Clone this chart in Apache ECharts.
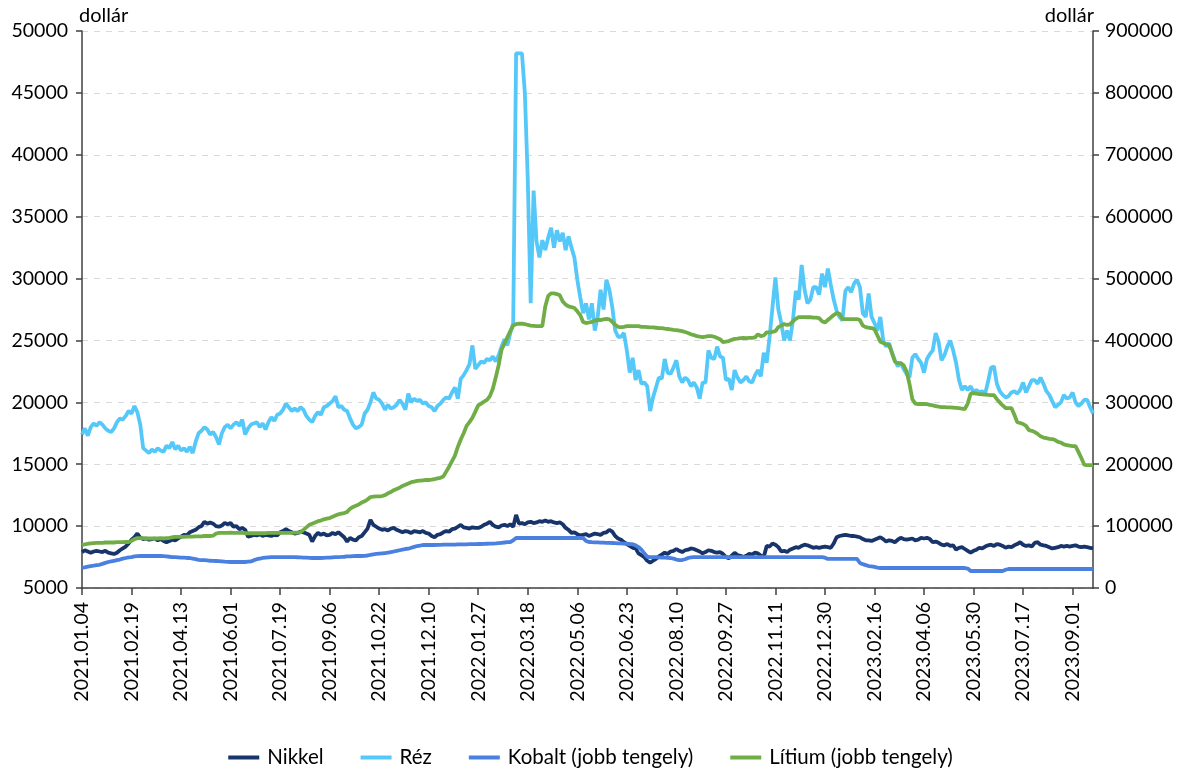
<!DOCTYPE html>
<html>
<head>
<meta charset="utf-8">
<script src="https://cdn.jsdelivr.net/npm/echarts@6/dist/echarts.min.js"></script>
<style>
html,body{margin:0;padding:0;background:#fff;}
#chart{width:1181px;height:771px;}
</style>
</head>
<body>
<div id="chart"></div>
<script>
// Tick labels (every 17th point; points are every other business day)
const tickLabels = ['2021.01.04','2021.02.19','2021.04.13','2021.06.01','2021.07.19','2021.09.06','2021.10.22','2021.12.10',
  '2022.01.27','2022.03.18','2022.05.06','2022.06.23','2022.08.10','2022.09.27','2022.11.11','2022.12.30',
  '2023.02.16','2023.04.06','2023.05.30','2023.07.17','2023.09.01'];
const labelStep = 17;

const nikkel = [
7900,8050,7950,7850,7950, 8000,7950,7900,8000,7850, 7800,7750,7850,8050,8200, 8350,8600,8900,9100,9400,
9050,8950,9000,8900,8950, 9000,8850,8950,8800,8700, 8800,8900,8850,9000,9150, 9300,9250,9500,9600,9700,
9900,10000,10350,10200,10300, 10200,10000,9950,10050,10250, 10150,10250,9950,10000,9750, 9850,9700,9150,9200,9300,
9250,9350,9200,9300,9250, 9200,9300,9250,9500,9600, 9750,9600,9500,9400,9450, 9550,9500,9400,9300,8750,
9200,9450,9300,9400,9250, 9300,9450,9350,9500,9300, 9100,8750,9050,8900,8850, 9100,9200,9500,9800,10500,
10100,9950,9800,9700,9750, 9650,9800,9850,9700,9600, 9500,9600,9550,9450,9600, 9550,9500,9600,9450,9400,
9200,9100,9300,9350,9500, 9600,9550,9750,9800,9950, 10100,9900,9850,9800,9900, 9850,9850,9950,10100,10200,
10350,10100,9950,9900,10050, 10100,10000,10150,9950,10900, 10200,10250,10150,10300,10350, 10250,10300,10400,10350,10450,
10350,10400,10300,10250,10300, 10150,9850,9700,9450,9500, 9350,9250,9300,9350,9200, 9300,9400,9350,9300,9450,
9500,9700,9550,9200,9000, 8900,8700,8550,8400,8250, 8200,7800,7650,7500,7200, 7050,7200,7350,7550,7700,
7850,7750,7950,8000,8150, 8000,7900,8050,8100,8200, 8150,8050,7950,7800,7900, 8050,8000,7900,7850,7900,
7750,7500,7400,7600,7850, 7650,7600,7500,7600,7750, 7700,7850,7800,7600,7500, 8400,8350,8600,8500,8300,
7950,8000,7900,8100,8200, 8300,8250,8400,8500,8450, 8350,8250,8300,8250,8300, 8350,8300,8250,8600,9100,
9200,9250,9300,9250,9200, 9200,9150,9100,8950,8850, 8850,8800,8900,9000,9100, 8950,8750,8850,8800,8700,
8900,9050,8950,8900,8950, 9000,8850,8900,9050,9000, 9050,8950,8700,8750,8650, 8500,8450,8550,8400,8450,
8100,8250,8300,8150,8000, 7850,8000,8100,8250,8200, 8350,8450,8500,8400,8550, 8500,8400,8250,8350,8300,
8450,8550,8700,8500,8400, 8450,8350,8650,8700,8500, 8450,8400,8300,8200,8250, 8300,8400,8350,8400,8350,
8400,8450,8350,8300,8350, 8300,8250,8200];

const rez = [
17400,17900,17300,18000,18300, 18100,18400,18200,17900,17700, 17600,17900,18400,18700,18600, 18900,19300,19100,19700,19200,
18200,16300,16100,15900,16200, 16000,16300,16100,16000,16500, 16300,16800,16200,16500,16100, 16300,16000,16400,15900,16800,
17500,17700,18000,17800,17400, 17600,17200,16600,17500,18000, 18200,17900,18200,18400,18100, 18600,17400,17900,18200,18300,
18400,18000,18300,17800,18400, 18800,18500,19000,19100,19400, 19900,19600,19300,19500,19300, 19600,19400,18900,18600,18400,
18900,19200,19000,19600,19700, 19900,20100,20500,19600,19700, 19400,19300,18700,18200,17900, 18000,18200,19100,19400,20000,
20800,20300,20200,19900,19400, 19800,19500,19600,19800,20200, 19900,19400,20700,20000,20300, 20100,20200,19900,20000,19700,
19600,19300,19700,19900,20200, 20400,20300,20800,21200,20300, 21900,22200,22600,23100,24600, 22700,23000,23300,23200,23500,
23400,23700,23300,23800,24500, 25100,24600,25600,26400,48200, 48200,48200,45000,38000,28000, 37100,33000,31700,33100,32300,
33300,34100,32500,33900,33000, 33700,32300,33400,32500,31700, 29900,28500,27200,28000,26700, 28000,25800,26900,29100,27500,
29900,29100,27700,25800,25300, 25300,25600,24200,22400,23600, 21800,22600,21500,21600,21300, 19300,20400,21200,22000,21900,
23500,22400,22300,22800,23400, 22100,21600,22000,21800,21300, 21600,21200,20300,21600,21600, 24200,23600,23500,24500,23700,
23600,21800,21900,21000,22600, 22000,21600,21800,22100,21700, 21600,22200,22600,22100,24000, 23200,25300,27700,30100,27500,
26400,25000,25800,25000,26600, 29000,28300,31100,29100,28000, 28300,29300,29300,28700,30400, 29300,30800,29500,28300,27400,
26900,26600,29000,29300,28900, 29600,29900,29300,27200,26900, 28800,26900,26400,25800,26900, 25000,24500,24800,24000,23400,
22900,23200,22700,22300,22000, 23600,23900,23500,23200,22400, 23500,23900,24200,25600,24900, 23400,23800,24500,25000,24200,
23200,21800,21000,21300,21000, 21300,20800,21000,20800,20900, 20700,21700,22800,22900,21500, 20900,20600,20400,20500,20800,
20900,20700,21000,21600,20800, 21300,21800,21800,21500,22000, 21500,20900,20600,20100,19600, 19800,20000,20600,20300,20400,
20800,20000,19700,19900,20200, 20200,19600,19100];

const kobalt = [
32300,33500,34500,35500,36000, 36800,37500,39000,40500,42000, 43000,44000,45000,46000,47500, 48500,49500,50000,51000,51500,
51700,51700,51700,51700,51700, 51700,51700,51700,51500,51000, 50500,50000,50000,49500,49000, 49000,48500,48500,47500,46500,
45500,45000,45000,44500,44000, 43800,43600,43400,43000,42500, 42200,42000,42000,42000,42000, 42000,42000,42500,43000,45000,
46500,47500,48500,49000,49500, 50000,50000,50000,50000,50000, 50000,50000,50000,50000,49700, 49500,49200,49000,48800,48500,
48500,48500,48500,48700,49000, 49200,49500,49800,50000,50200, 50500,51000,51200,51500,51700, 51700,51700,52000,52500,53500,
54500,55000,55500,56000,56500, 57000,58000,59000,60000,61000, 62000,63000,63500,65000,66500, 67800,68500,69500,69500,69500,
69500,69500,69700,69700,70000, 70000,70000,70200,70200,70400, 70400,70600,70600,70800,70800, 71000,71100,71100,71300,71500,
71600,71800,72000,72500,73000, 73500,74000,74300,77000,80800, 80800,80800,80800,80800,80800, 80800,80800,80800,80800,80800,
80800,80800,80800,80800,80800, 80800,80800,80800,80800,80800, 80800,80800,80500,76000,74300, 74000,73800,73600,73400,73200,
73000,72800,72700,72500,72200, 72000,71800,71500,71100,70800, 69000,66200,62000,56000,50500, 50000,50000,49800,49500,49200,
49000,48800,48500,47500,46000, 45200,45200,46500,48500,49500, 50000,50000,50000,50000,50000, 50000,50000,50000,50000,50000,
50000,50000,50000,50000,50000, 50000,50000,50000,50000,50000, 50000,50000,50000,50000,50000, 50000,50000,50000,50000,50000,
50000,50000,50000,50000,50000, 50000,50000,50000,50000,50000, 50000,50000,50000,50000,50000, 49000,46900,46900,46900,46900,
46900,46900,46900,46900,46900, 46900,46900,40400,38500,37000, 35500,35000,34000,33000,32300, 32300,32300,32300,32300,32300,
32300,32300,32300,32300,32300, 32300,32300,32300,32300,32300, 32300,32300,32300,32300,32300, 32300,32300,32300,32300,32300,
32300,32300,32300,32300,31500, 27500,27500,27500,27500,27500, 27500,27500,27500,27500,27500, 27500,27500,29500,30700,30700,
30700,30700,30700,30700,30700, 30700,30700,30700,30700,30700, 30700,30700,30700,30700,30700, 30700,30700,30700,30700,30700,
30700,30700,30700,30700,30700, 30700,30700,30700];

const litium = [
69500,70500,71500,72000,72500, 73000,73000,73000,73500,73500, 73500,73500,74000,74000,74000, 74300,74300,76000,79000,80500,
80500,80500,80000,80000,80000, 80000,80000,80500,80000,80500, 81000,82000,82500,82500,82500, 82500,83000,83000,83000,83500,
83500,83500,84000,84000,84000, 84500,88000,89000,89000,89000, 89000,89500,89000,89000,89000, 89000,88500,88500,88500,88500,
88500,88500,88500,88500,89000, 89000,89000,89000,89000,89000, 89000,89000,89000,89500,89500, 90000,94000,98000,102000,104000,
106000,108000,109000,111000,112000, 113000,115000,117000,119000,120000, 121000,123000,128000,131000,133000, 135000,138000,140000,143000,147000,
147500,148000,148000,148600,150000, 153000,155000,158000,160000,162000, 165000,167000,169000,171000,172000, 173000,173500,174000,174500,174500,
175000,176000,177000,178000,180000, 188000,196000,205000,214000,228000, 240000,250000,262000,268000,275000, 285000,295000,298000,301000,304000,
310000,322000,340000,360000,385000, 395000,405000,415000,424000,426500, 427000,427000,426500,425000,424000, 423500,423000,423000,423300,455000,
472000,476000,476000,475000,473000, 463000,458000,455000,454000,452400, 447000,441000,430000,428000,429000, 430000,432000,433000,433000,434000,
435000,434000,430000,425000,422000, 421600,422000,423000,423000,423000, 423000,423000,422000,422000,421600, 421000,421000,420500,420000,420000,
419000,418500,418000,417000,416800, 416000,415000,413600,412000,410000, 408700,407000,406000,405500,406000, 407000,407100,406000,404000,402000,
397400,398000,399000,401000,402500, 403000,403900,404000,403900,404000, 404000,405000,410000,407000,408000, 413000,413000,414000,415000,421600,
424000,426500,425000,426000,431000, 435000,437800,437800,437800,437500, 437800,437000,437000,436000,431000, 429000,433000,437000,441000,444000,
443000,435000,434600,434600,434600, 434600,434600,433000,424000,421600, 420500,420000,418000,408000,398000, 396000,394000,392600,380000,366000,
363500,363500,360000,350000,330000, 305000,298000,297300,297300,297300, 297000,296000,295000,294000,293000, 292400,292400,292000,292000,291500,
291000,290500,290000,289200,298000, 314000,315000,314000,313400,313000, 312500,312000,311800,311500,305000, 300000,295000,290800,290800,290800,
280000,268000,266600,265000,262000, 255200,254000,252000,249000,245000, 243000,242000,241000,240700,239000, 236000,235000,232000,231000,230000,
229400,229400,220000,210000,199000, 198700,198700,198700];

const categories = [];
for (let i = 0; i < rez.length; i++) categories.push(String(i));

const FONT = 'Lato, "Open Sans", sans-serif';
const TXT = '#000000';
const AXIS = '#404040';
const plain = v => String(v);

const chart = echarts.init(document.getElementById('chart'), null, {renderer: 'canvas'});
chart.setOption({
  animation: false,
  backgroundColor: '#ffffff',
  textStyle: {fontFamily: FONT},
  grid: {left: 82, right: 88, top: 31, bottom: 183, containLabel: false},
  legend: {
    bottom: -2, left: 'center',
    itemWidth: 31, itemHeight: 4, itemGap: 37,
    icon: 'rect',
    textStyle: {fontFamily: FONT, fontSize: 20.5, color: TXT, padding: [0, 0, 0, 3]},
    data: ['Nikkel', 'Réz', 'Kobalt (jobb tengely)', 'Lítium (jobb tengely)']
  },
  xAxis: {
    type: 'category',
    data: categories,
    boundaryGap: false,
    axisLine: {lineStyle: {color: AXIS, width: 1.5}},
    axisTick: {show: true, interval: labelStep - 1, length: 7, lineStyle: {color: AXIS, width: 1.5}},
    axisLabel: {
      interval: labelStep - 1, rotate: 90, margin: 14,
      fontFamily: FONT, fontSize: 19.5, color: TXT,
      formatter: function (v, idx) { return idx % labelStep === 0 ? (tickLabels[idx / labelStep] || '') : ''; }
    },
    splitLine: {show: false}
  },
  yAxis: [
    {
      type: 'value', min: 5000, max: 50000, interval: 5000, position: 'left',
      name: 'dollár', nameLocation: 'end', nameGap: 5,
      nameTextStyle: {fontFamily: FONT, fontSize: 20, color: TXT, align: 'left', verticalAlign: 'bottom', padding: [0, 0, 0, -3]},
      axisLine: {show: true, lineStyle: {color: AXIS, width: 1.5}},
      axisTick: {show: true, length: 6, lineStyle: {color: AXIS, width: 1.5}},
      axisLabel: {fontFamily: FONT, fontSize: 19.5, color: TXT, margin: 14, formatter: plain},
      splitLine: {show: true, lineStyle: {color: '#d9d9d9', type: [6, 6], width: 1}}
    },
    {
      type: 'value', min: 0, max: 900000, interval: 100000, position: 'right',
      name: 'dollár', nameLocation: 'end', nameGap: 5,
      nameTextStyle: {fontFamily: FONT, fontSize: 20, color: TXT, align: 'right', verticalAlign: 'bottom', padding: [0, -1, 0, 0]},
      axisLine: {show: true, lineStyle: {color: AXIS, width: 1.5}},
      axisTick: {show: true, length: 6, lineStyle: {color: AXIS, width: 1.5}},
      axisLabel: {fontFamily: FONT, fontSize: 19.5, color: TXT, margin: 12, formatter: plain},
      splitLine: {show: false}
    }
  ],
  series: [
    {name: 'Nikkel', type: 'line', yAxisIndex: 0, data: nikkel, showSymbol: false, symbol: 'none',
      color: '#17346b', lineStyle: {width: 3.8, color: '#17346b'}},
    {name: 'Réz', type: 'line', yAxisIndex: 0, data: rez, showSymbol: false, symbol: 'none',
      color: '#55c8fa', lineStyle: {width: 3.8, color: '#55c8fa'}},
    {name: 'Kobalt (jobb tengely)', type: 'line', yAxisIndex: 1, data: kobalt, showSymbol: false, symbol: 'none',
      color: '#4a80e0', lineStyle: {width: 3.8, color: '#4a80e0'}},
    {name: 'Lítium (jobb tengely)', type: 'line', yAxisIndex: 1, data: litium, showSymbol: false, symbol: 'none',
      color: '#70ad47', lineStyle: {width: 3.8, color: '#70ad47'}}
  ]
});
</script>
</body>
</html>
